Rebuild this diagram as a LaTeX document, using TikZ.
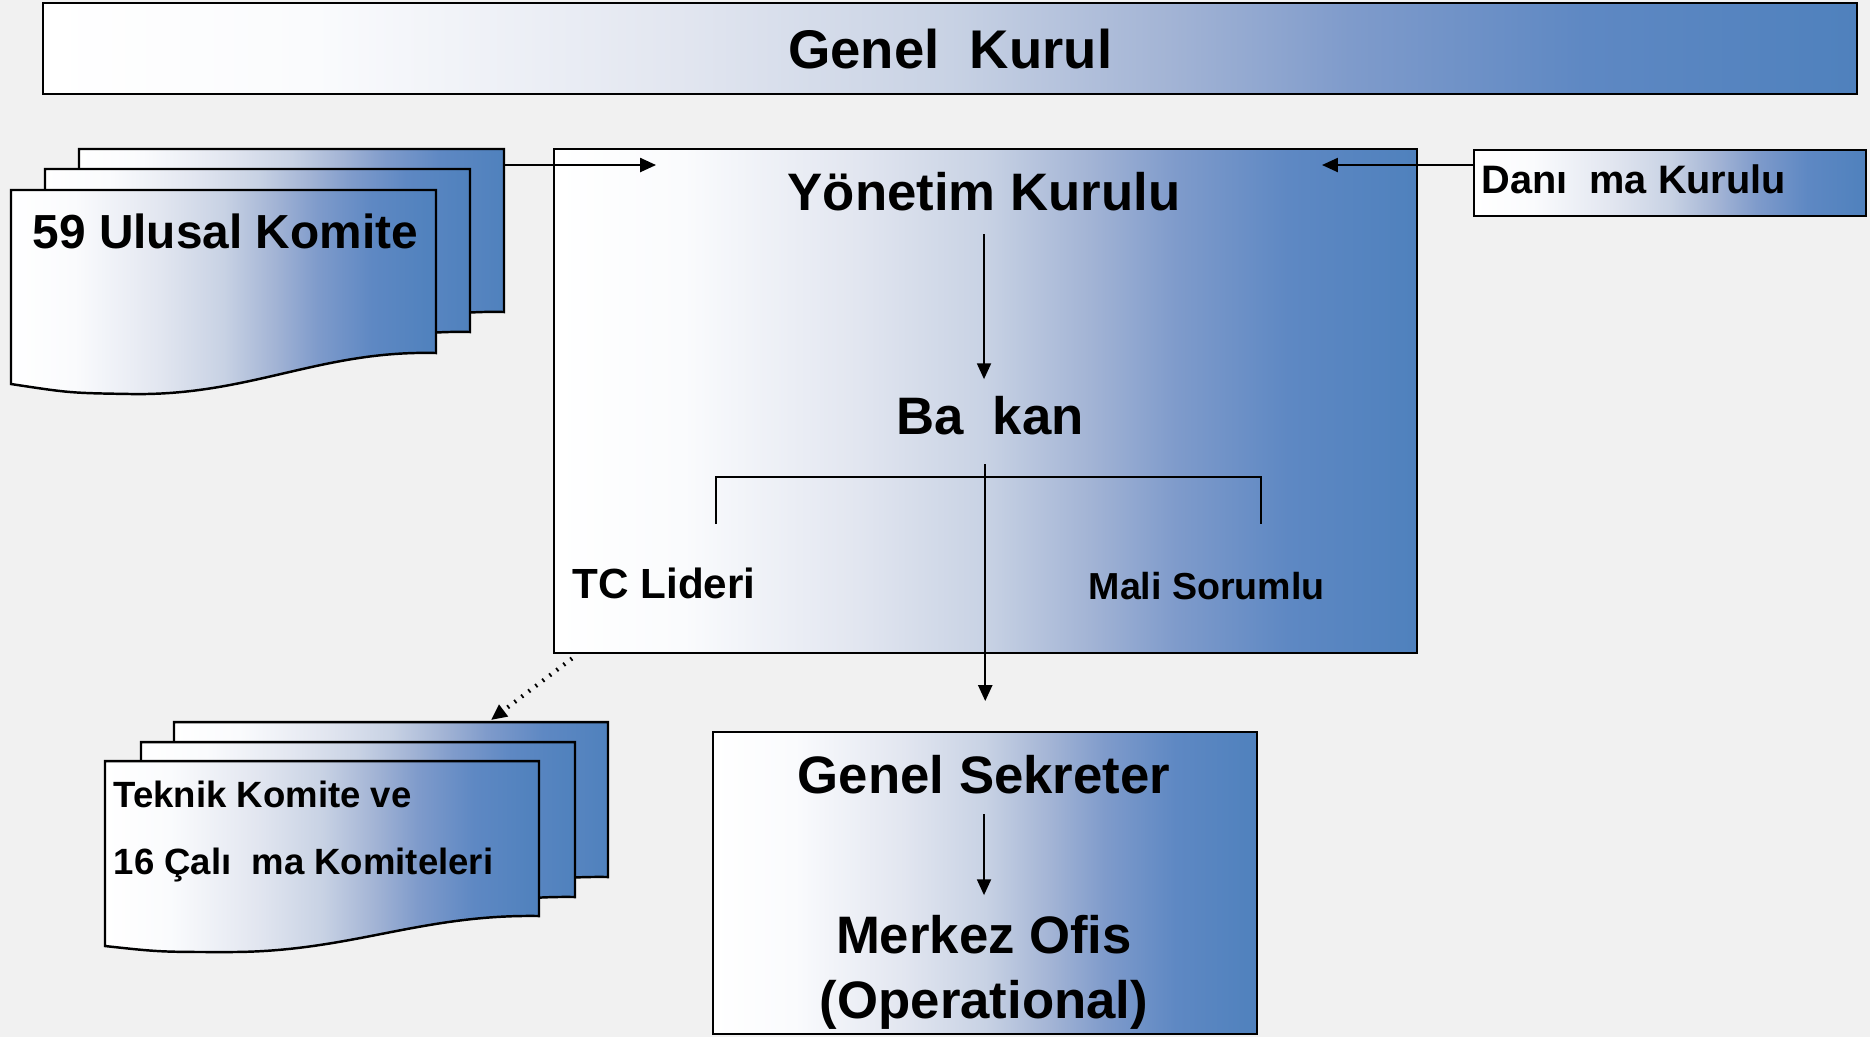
\documentclass[tikz,border=0pt]{standalone}
\usepackage{fontspec}
\setmainfont{Liberation Sans}
\usetikzlibrary{arrows.meta}

\definecolor{kblue}{HTML}{4F81BD}
\definecolor{kbl1}{HTML}{FAFBFD}
\definecolor{kbl2}{HTML}{E2E6F0}
\definecolor{kbl3}{HTML}{C8D2E4}
\definecolor{kbl4}{HTML}{A3B4D5}
\definecolor{kbl5}{HTML}{7F9BCB}
\definecolor{kbl6}{HTML}{5E88C3}
\definecolor{bggray}{HTML}{F1F1F1}

\pgfdeclarehorizontalshading{kshade}{100bp}{color(0bp)=(white); color(25bp)=(white); color(32.5bp)=(kbl1); color(42.5bp)=(kbl2); color(50bp)=(kbl3); color(56bp)=(kbl4); color(61bp)=(kbl5); color(67.5bp)=(kbl6); color(75bp)=(kblue); color(100bp)=(kblue)}

\newcommand{\fbig}{\fontsize{15}{18}\selectfont\bfseries}
\newcommand{\fmid}{\fontsize{12}{14}\selectfont\bfseries}
\newcommand{\fsml}{\fontsize{10.4}{12}\selectfont\bfseries}

\tikzset{
  box/.style={draw, line width=0.7pt, shading=kshade, inner sep=0pt, anchor=north west},
  page/.style={draw, line width=0.7pt, shading=kshade},
  lbl/.style={inner sep=0pt, anchor=base},
  arr/.style={-{Triangle[length=4.5pt,width=4pt]}, line width=0.5pt},
}

\begin{document}
\begin{tikzpicture}[x=0.1mm,y=-0.1mm]
\fill[bggray] (0,0) rectangle (1870,1037);
\useasboundingbox (0,0) rectangle (1870,1037);

\node[box, minimum width=181.4mm, minimum height=9.1mm, font=\fontsize{15.5}{18}\selectfont\bfseries] (gk) at (42,2) {Genel\hspace{0.556em}Kurul};

\foreach \dx/\dy in {68/-41, 34/-21, 0/0} {
\draw[page, shift={(\dx,\dy)}] (11,190) -- (436,190) -- (436,353) .. controls (320,350) and (250,396) .. (131,394) .. controls (70,393) .. (11,384) -- cycle;
}
\coordinate (uk) at (504,149);
\node[lbl, anchor=base west, font=\fontsize{13.6}{16}\selectfont\bfseries] (ulusal) at (32,248) {59 Ulusal Komite};

\node[box, minimum width=86.3mm, minimum height=50.4mm] (yk) at (553,148) {};
\node[lbl, font=\fbig] (ykt) at (984,210) {Yönetim Kurulu};
\node[lbl, font=\fbig] (bsk) at (990,434) {Ba\hspace{0.55em}kan};
\node[lbl, anchor=base west, font=\fmid] (tc) at (572,598) {TC Lideri};
\node[lbl, anchor=base west, font=\fontsize{10.7}{13}\selectfont\bfseries] (mali) at (1088,599) {Mali Sorumlu};
\coordinate (bl) at (716,524);
\coordinate (br) at (1261,524);
\draw[line width=0.7pt] (bl) -- ++(0,-47) -| (br);

\node[box, minimum width=39.2mm, minimum height=6.6mm] (dk) at (1473,149) {};
\node[lbl, anchor=base west, font=\fontsize{11.3}{13}\selectfont\bfseries] (dkt) at (1481,193) {Danı\hspace{0.55em}ma Kurulu};

\foreach \dx/\dy in {69/-39, 36/-19, 0/0} {
\draw[page, shift={(\dx,\dy)}] (105,761) -- (539,761) -- (539,916) .. controls (420,914) and (350,952) .. (230,952) .. controls (160,952) .. (105,946) -- cycle;
}
\coordinate (tk) at (491,720);
\node[lbl, anchor=base west, font=\fsml] (tk1) at (113,807) {Teknik Komite ve};
\node[lbl, anchor=base west, font=\fsml] (tk2) at (113,874) {16 Çalı\hspace{0.55em}ma Komiteleri};

\node[box, minimum width=54.4mm, minimum height=30.2mm] (gs) at (712,731) {};
\node[lbl, font=\fbig] (gst) at (984,793) {Genel Sekreter};
\node[lbl, font=\fbig] (mrk) at (984,953) {Merkez Ofis};
\node[lbl, font=\fbig] (ops) at (984,1018) {(Operational)};

\coordinate (yk-l) at (656,165);
\coordinate (yk-r) at (1322,165);
\draw[arr] (uk |- yk-l) -- (yk-l);
\draw[arr] (dk.west |- yk-r) -- (yk-r);
\draw[arr, shorten <=2.3mm, shorten >=1.6mm] (ykt.south) -- (ykt.south |- bsk.north);
\draw[arr, shorten <=2.9mm, shorten >=3mm] (gs.north |- bsk.south) -- (gs.north);
\draw[arr, shorten <=2mm, shorten >=1.9mm] (gst.south) -- (mrk.north);
\draw[arr, dotted, line width=1.2pt] (yk.south west) ++(19,4) -- (tk);

\end{tikzpicture}
\end{document}
